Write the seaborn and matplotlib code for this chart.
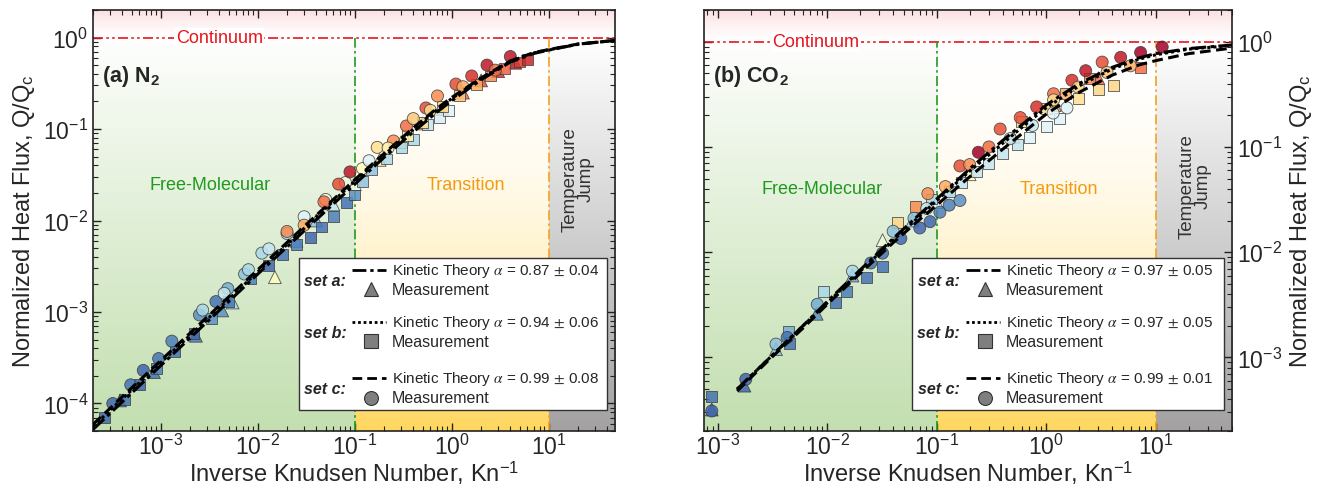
import matplotlib
matplotlib.use("Agg")
import matplotlib.colors as mcolors
import matplotlib.pyplot as plt
import numpy as np
import seaborn as sns
from matplotlib.patches import Rectangle

# ---------------- values ----------------
# (a) N2 kinetic theory curves (set a dash-dot, set b dotted, set c dashed)
n2_kt_x = [2e-4, 5e-4, 1e-3, 3e-3, 1e-2, 3e-2, 0.1, 0.2, 0.4, 0.7, 1, 2, 4, 7, 10, 20, 48]
n2_kt_a = [5.2e-5, 1.3e-4, 2.6e-4, 7.8e-4, 2.6e-3, 7.7e-3, 0.025, 0.049, 0.093, 0.153, 0.205,
           0.345, 0.54, 0.67, 0.73, 0.845, 0.93]
n2_kt_b = [5.6e-5, 1.4e-4, 2.8e-4, 8.3e-4, 2.75e-3, 8.2e-3, 0.027, 0.052, 0.099, 0.162, 0.216,
           0.357, 0.55, 0.68, 0.735, 0.847, 0.93]
n2_kt_c = [5.9e-5, 1.48e-4, 2.95e-4, 8.8e-4, 2.9e-3, 8.6e-3, 0.028, 0.054, 0.103, 0.168, 0.222,
           0.362, 0.555, 0.685, 0.74, 0.85, 0.93]

# (a) N2 measurements; lvl = colour position on the blue-red scale
n2_a_x = [3.8e-4, 8.5e-4, 2.3e-3, 4.3e-3, 5.5e-3, 1.5e-2, 2.5e-2, 4e-2, 6e-2, 0.1, 0.18, 0.3,
          0.5, 0.8, 1.3, 2.0, 3.0, 4.5]
n2_a_y = [1.08e-4, 2.2e-4, 5.5e-4, 1.04e-3, 1.27e-3, 2.4e-3, 6e-3, 0.01, 0.015, 0.025, 0.046,
          0.072, 0.115, 0.165, 0.25, 0.34, 0.43, 0.53]
n2_a_lvl = [0.1, 0.1, 0.12, 0.15, 0.3, 0.5, 0.2, 0.25, 0.35, 0.45, 0.55, 0.6, 0.7, 0.75, 0.8,
            0.85, 0.9, 0.95]

n2_b_x = [2.6e-4, 4.2e-4, 6e-4, 9e-4, 1.4e-3, 2.2e-3, 3.3e-3, 5e-3, 8.5e-3, 1.3e-2, 1.8e-2,
          2.5e-2, 3.5e-2, 4.5e-2, 6e-2, 8.2e-2, 0.1, 0.12, 0.15, 0.21, 0.3, 0.4, 0.56, 0.75,
          0.93, 0.35, 0.5, 0.8, 1.2, 1.8, 2.5, 3.5, 5.0, 6.0]
n2_b_y = [7e-5, 1.1e-4, 1.6e-4, 2.4e-4, 3.7e-4, 5.8e-4, 8.5e-4, 1.3e-3, 2.3e-3, 3.2e-3, 4.3e-3,
          5.5e-3, 6.5e-3, 8.5e-3, 0.011, 0.0158, 0.019, 0.027, 0.036, 0.047, 0.063, 0.077,
          0.112, 0.135, 0.16, 0.085, 0.118, 0.175, 0.235, 0.31, 0.38, 0.46, 0.54, 0.57]
n2_b_lvl = [0.08, 0.1, 0.08, 0.12, 0.1, 0.08, 0.15, 0.1, 0.12, 0.08, 0.1, 0.12, 0.08, 0.1, 0.12,
            0.1, 0.15, 0.25, 0.25, 0.3, 0.3, 0.3, 0.35, 0.38, 0.4, 0.55, 0.6, 0.62, 0.65, 0.7,
            0.75, 0.82, 0.88, 0.92]

n2_c_x = [3.2e-4, 4.9e-4, 6.6e-4, 9.5e-4, 1.3e-3, 2.5e-3, 3.7e-3, 4.9e-3, 7.3e-3, 1.1e-2,
          2.7e-3, 4.5e-3, 8e-3, 1.3e-2, 2e-2, 3e-2, 5e-2, 8e-2, 0.12,
          0.02, 0.03, 0.048, 0.068, 0.089, 0.17, 0.25, 0.34, 0.4, 0.54, 0.71, 1.1, 1.6, 2.3, 4.0,
          0.14, 0.22, 0.6, 1.3, 2.8]
n2_c_y = [1.0e-4, 1.6e-4, 2.3e-4, 3.1e-4, 4.8e-4, 9.3e-4, 1.3e-3, 1.8e-3, 2.6e-3, 4.4e-3,
          1.05e-3, 1.6e-3, 2.9e-3, 4.9e-3, 7.2e-3, 0.011, 0.017, 0.026, 0.037,
          7.6e-3, 8.9e-3, 0.016, 0.025, 0.034, 0.063, 0.074, 0.108, 0.13, 0.17, 0.23, 0.31, 0.38,
          0.5, 0.62, 0.045, 0.062, 0.16, 0.29, 0.44]
n2_c_lvl = [0.08, 0.1, 0.08, 0.1, 0.12, 0.15, 0.1, 0.2, 0.25, 0.3,
            0.3, 0.35, 0.3, 0.35, 0.3, 0.4, 0.45, 0.45, 0.5,
            0.75, 0.7, 0.8, 0.85, 0.95, 0.6, 0.75, 0.8, 0.65, 0.85, 0.75, 0.85, 0.9, 0.95, 0.95,
            0.4, 0.55, 0.6, 0.7, 0.8]

# (b) CO2 kinetic theory curves
co2_kt_x = [1.5e-3, 3e-3, 6e-3, 1e-2, 2e-2, 4e-2, 0.07, 0.1, 0.2, 0.4, 0.7, 1, 2, 4, 7, 10, 20, 50]
co2_kt_a = [5.0e-4, 1.0e-3, 2.0e-3, 3.4e-3, 6.8e-3, 0.0135, 0.023, 0.032, 0.062, 0.115, 0.185,
            0.25, 0.40, 0.57, 0.70, 0.77, 0.86, 0.93]
co2_kt_b = [5.0e-4, 1.0e-3, 2.0e-3, 3.3e-3, 6.6e-3, 0.013, 0.022, 0.031, 0.059, 0.108, 0.175,
            0.235, 0.38, 0.55, 0.68, 0.75, 0.85, 0.92]
co2_kt_c = [4.8e-4, 9.7e-4, 1.9e-3, 3.2e-3, 6.3e-3, 0.0123, 0.0205, 0.028, 0.052, 0.095, 0.152,
            0.205, 0.33, 0.48, 0.60, 0.66, 0.77, 0.87]

# (b) CO2 measurements
co2_a_x = [8.8e-4, 1.75e-3, 3.4e-3, 8e-3, 1.7e-2, 3.2e-2, 0.06, 0.1, 0.2, 0.5, 1.2, 3.0]
co2_a_y = [3.2e-4, 5.4e-4, 1.2e-3, 2.6e-3, 6.0e-3, 0.013, 0.02, 0.03, 0.055, 0.125, 0.25, 0.45]
co2_a_lvl = [0.08, 0.08, 0.25, 0.15, 0.2, 0.45, 0.3, 0.4, 0.5, 0.6, 0.7, 0.8]

co2_b_x = [8.8e-4, 4.4e-3, 4.5e-3, 9.2e-3, 1.18e-2, 1.5e-2, 2.3e-2, 3.2e-2, 4.4e-2, 6.4e-2, 0.09,
           0.13, 0.17, 0.23, 0.3, 0.4, 0.55, 0.71, 1.0, 1.33, 1.96, 3.0, 4.1, 7.3, 0.6, 1.0,
           1.5, 2.5]
co2_b_y = [4.3e-4, 1.78e-3, 1.35e-3, 4.2e-3, 3.3e-3, 4.2e-3, 5.7e-3, 7.3e-3, 0.019, 0.027, 0.032,
           0.038, 0.046, 0.058, 0.07, 0.086, 0.105, 0.123, 0.155, 0.185, 0.29, 0.35, 0.385, 0.57,
           0.175, 0.23, 0.32, 0.45]
co2_b_lvl = [0.1, 0.2, 0.1, 0.3, 0.1, 0.12, 0.1, 0.1, 0.62, 0.75, 0.3, 0.3, 0.35, 0.35, 0.35,
             0.35, 0.35, 0.4, 0.4, 0.4, 0.6, 0.62, 0.62, 0.8, 0.6, 0.62, 0.7, 0.75]

co2_c_x = [8.8e-4, 1.8e-3, 3.4e-3, 4.3e-3, 8.1e-3, 1.7e-2, 2.5e-2, 3.2e-2, 4e-2, 4.7e-2, 6.2e-2,
           7e-2, 8.1e-2, 8.3e-2, 8.7e-2, 0.107, 0.13, 0.163, 0.163, 0.24, 0.38, 0.58, 0.82,
           1.17, 1.72, 2.3, 3.25, 4.8, 7.3, 11.5, 1.17, 1.96, 3.6, 5.9, 0.47, 0.75, 1.16, 1.55,
           0.12, 0.2, 0.3]
co2_c_y = [3.1e-4, 6.2e-4, 1.34e-3, 1.55e-3, 3.2e-3, 6.6e-3, 7.9e-3, 9.8e-3, 0.0158, 0.0135,
           0.021, 0.017, 0.026, 0.036, 0.0195, 0.024, 0.028, 0.031, 0.066, 0.089, 0.148, 0.19,
           0.24, 0.32, 0.43, 0.53, 0.64, 0.71, 0.79, 0.89, 0.28, 0.37, 0.51, 0.59, 0.12, 0.16,
           0.21, 0.235, 0.042, 0.068, 0.1]
co2_c_lvl = [0.08, 0.08, 0.25, 0.1, 0.2, 0.3, 0.1, 0.1, 0.25, 0.08, 0.25, 0.08, 0.35, 0.75, 0.08,
             0.12, 0.12, 0.15, 0.85, 1.0, 0.85, 0.85, 0.9, 0.8, 0.9, 0.95, 0.85, 0.95, 1.0, 1.0,
             0.6, 0.62, 0.65, 0.7, 0.35, 0.35, 0.4, 0.4, 0.7, 0.75, 0.8]

set_names = ["set a:", "set b:", "set c:"]
n2_alpha = ["0.87", "0.94", "0.99"]
n2_alpha_err = ["0.04", "0.06", "0.08"]
co2_alpha = ["0.97", "0.97", "0.99"]
co2_alpha_err = ["0.05", "0.05", "0.01"]

# ---------------- style ----------------
sns.set_theme(style="ticks")
plt.rcParams["font.family"] = ["Liberation Sans", "DejaVu Sans"]
plt.rcParams["mathtext.fontset"] = "stix"

LINE_STYLES = [(0, (5, 1.4, 1.2, 1.4)), (0, (1, 1)), (0, (3.5, 1.8))]
MARKERS = ["^", "s", "o"]
SIZES = [85, 62, 75]
EDGE = "#3a3a3a"


def frac(v, lo, hi):
    return (np.log10(v) - np.log10(lo)) / (np.log10(hi) - np.log10(lo))


def gradient(ax, x0, x1, y0, y1, color, power, from_top=False):
    t = np.linspace(0, 1, 256)[:, None]
    w = t ** power if from_top else (1 - t) ** power
    rgb = np.array(mcolors.to_rgb(color))
    img = 1 - w[..., None] * (1 - rgb)
    ax.imshow(img, extent=(x0, x1, y0, y1), transform=ax.transAxes, origin="lower",
              aspect="auto", interpolation="bicubic", zorder=0)


def draw_panel(ax, xlim, ylim, kt_x, kt_curves, meas, tag, texts, alpha_vals, alpha_errs):
    ax.set_xscale("log")
    ax.set_yscale("log")
    ax.set_xlim(*xlim)
    ax.set_ylim(*ylim)

    fx1, fx10 = frac(0.1, *xlim), frac(10, *xlim)
    fy = frac(1, *ylim)
    gradient(ax, 0, fx1, 0, fy, "#c3dfb0", 0.9)
    gradient(ax, fx1, fx10, 0, fy, "#ffd75e", 2.0)
    gradient(ax, fx10, 1, 0, fy, "#a3a1a1", 1.0)
    gradient(ax, 0, 1, fy, 1, "#fcdfe1", 1.3, from_top=True)

    ax.axhline(1, color="#e8141c", lw=1.2, ls=(0, (6, 2, 1.5, 2, 1.5, 2)), zorder=2)
    ax.vlines(0.1, ylim[0], 1, color="#1f9a1f", lw=1.2, ls=(0, (6, 2, 1.5, 2)), zorder=2)
    ax.vlines(10, ylim[0], 1, color="#f5a11c", lw=1.2, ls=(0, (6, 2, 1.5, 2)), zorder=2)

    for (xs, ys, lvl), mk, sz in zip(meas, MARKERS, SIZES):
        sns.scatterplot(x=xs, y=ys, hue=lvl, palette="RdYlBu_r", hue_norm=(0, 1), marker=mk,
                        s=sz, edgecolor=EDGE, linewidth=0.6, alpha=0.85, legend=False, ax=ax,
                        zorder=3)

    for ys, ls in zip(kt_curves, LINE_STYLES):
        sns.lineplot(x=kt_x, y=ys, color="black", linestyle=ls, linewidth=2.2, estimator=None,
                     sort=False, legend=False, ax=ax, zorder=4)

    (cx, fm, tr, tj) = texts
    ax.text(cx, 1, "Continuum", color="#e8141c", fontsize=13, ha="center", va="center",
            zorder=5, bbox=dict(facecolor="white", edgecolor="none", pad=1))
    ax.text(fm[0], fm[1], "Free-Molecular", color="#1f9a1f", fontsize=13, ha="center",
            va="center", zorder=2)
    ax.text(tr[0], tr[1], "Transition", color="#f59a10", fontsize=13, ha="center",
            va="center", zorder=2)
    ax.text(tj[0], tj[1], "Temperature\nJump", color="#333333", fontsize=13.5, ha="center",
            va="center", rotation=90, linespacing=1.0, zorder=2)
    ax.text(0.018, 0.845, tag, transform=ax.transAxes, fontsize=15.5, fontweight="bold",
            va="center", ha="left", zorder=5)

    # key box
    bx, by, bw, bh = 0.394, 0.05, 0.591, 0.362
    ax.add_patch(Rectangle((bx, by), bw, bh, transform=ax.transAxes, facecolor="white",
                           edgecolor="#333333", lw=1.0, zorder=6))
    rows = [(0.3325, 0.2865, 0.308), (0.2085, 0.1635, 0.1845), (0.0755, 0.0285, 0.052)]
    for (ykt, ym, ylab), name, ls, mk, val, err in zip(rows, set_names, LINE_STYLES, MARKERS,
                                                       alpha_vals, alpha_errs):
        ax.text(bx + 0.0505, by + ylab, name, transform=ax.transAxes, fontsize=11.5,
                fontweight="bold", style="italic", ha="center", va="center", zorder=7)
        ax.plot([bx + 0.103, bx + 0.167], [by + ykt, by + ykt], transform=ax.transAxes,
                color="black", lw=2.0, ls=ls, zorder=7)
        ax.plot([bx + 0.138], [by + ym], transform=ax.transAxes, marker=mk, ms=10,
                color="#7f7f7f", mec="#333333", mew=0.8, ls="none", zorder=7)
        ax.text(bx + 0.178, by + ykt, f"Kinetic Theory $\\alpha$ = {val} $\\pm$ {err}",
                transform=ax.transAxes, fontsize=11, ha="left", va="center", zorder=7)
        ax.text(bx + 0.178, by + ym, "Measurement", transform=ax.transAxes, fontsize=11.5,
                ha="left", va="center", zorder=7)

    ax.tick_params(which="both", direction="in", top=True, right=True, left=True, bottom=True,
                   color="#222222", labelsize=16.5)
    ax.tick_params(axis="x", which="both", pad=2)
    ax.tick_params(which="major", length=6, width=1.0)
    ax.tick_params(which="minor", length=3.5, width=0.8)
    for sp in ax.spines.values():
        sp.set_color("#222222")
        sp.set_linewidth(1.2)
    ax.set_xlabel("Inverse Knudsen Number, Kn$^{\\mathregular{-1}}$", fontsize=17, labelpad=-1)
    ax.set_ylabel("Normalized Heat Flux, Q/Q$_{\\mathregular{c}}$", fontsize=17)
    ax.set_xlim(*xlim)
    ax.set_ylim(*ylim)


fig = plt.figure(figsize=(13.17, 4.89), dpi=100)
ax1 = fig.add_axes([0.0706, 0.1165, 0.3964, 0.861])
ax2 = fig.add_axes([0.5342, 0.1165, 0.4013, 0.861])

draw_panel(ax1, (2e-4, 48), (5e-5, 2), n2_kt_x, [n2_kt_a, n2_kt_b, n2_kt_c],
           [(n2_a_x, n2_a_y, n2_a_lvl), (n2_b_x, n2_b_y, n2_b_lvl), (n2_c_x, n2_c_y, n2_c_lvl)],
           "(a) N$_{\\mathregular{2}}$",
           (4e-3, (3.2e-3, 0.025), (1.4, 0.025), (20, 0.029)), n2_alpha, n2_alpha_err)
draw_panel(ax2, (7.4e-4, 50), (2e-4, 2), co2_kt_x, [co2_kt_a, co2_kt_b, co2_kt_c],
           [(co2_a_x, co2_a_y, co2_a_lvl), (co2_b_x, co2_b_y, co2_b_lvl),
            (co2_c_x, co2_c_y, co2_c_lvl)],
           "(b) CO$_{\\mathregular{2}}$",
           (7.9e-3, (9e-3, 0.04), (1.3, 0.04), (23, 0.043)), co2_alpha, co2_alpha_err)

ax2.yaxis.tick_right()
ax2.yaxis.set_label_position("right")
ax2.tick_params(which="both", left=True, right=True, labelleft=False, labelright=True)

fig.savefig("out.png", dpi=100)
